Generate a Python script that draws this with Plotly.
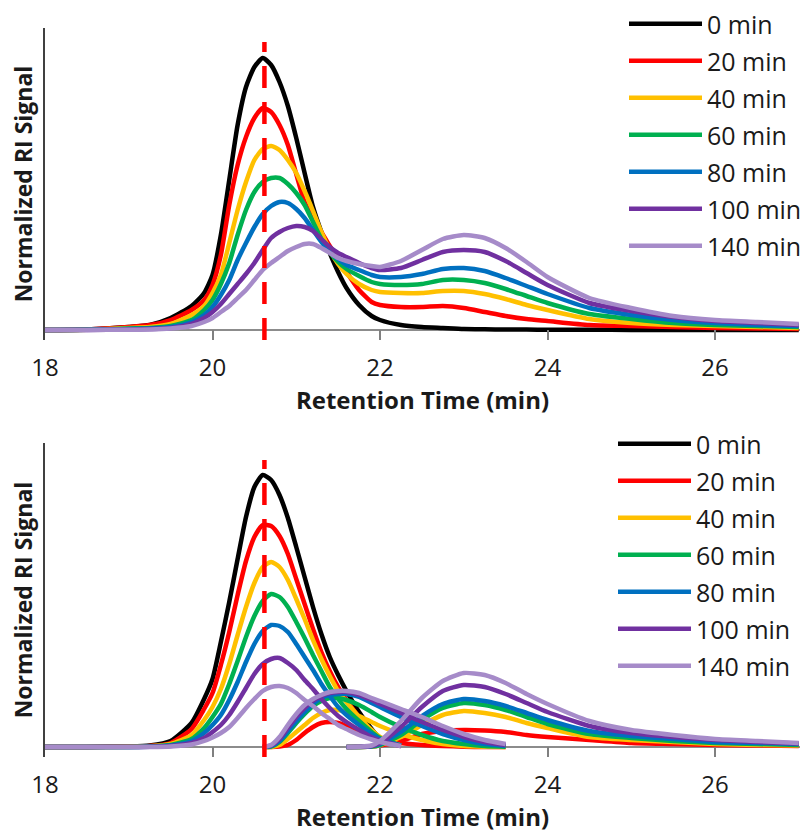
import plotly.graph_objects as go

# ---------------- data ----------------
labels = ["0 min", "20 min", "40 min", "60 min", "80 min", "100 min", "140 min"]
colors = ["#000000", "#FF0000", "#FFC000", "#00B050", "#0070C0", "#7030A0", "#A68BC9"]
reference_time = 20.62
x_ticks = [18, 20, 22, 24, 26]

# Top panel: measured chromatograms
time_full = [18.0, 18.5, 19.0, 19.25, 19.5, 19.75, 19.9, 20.0, 20.1, 20.2, 20.3, 20.4, 20.5,
             20.6, 20.7, 20.8, 20.9, 21.0, 21.1, 21.2, 21.3, 21.4, 21.5, 21.6, 21.75, 21.9,
             22.0, 22.25, 22.5, 22.75, 23.0, 23.25, 23.5, 23.75, 24.0, 24.5, 25.0, 25.5,
             26.0, 26.5, 27.0]
top_0 = [0, 0.5, 3, 5, 12, 24, 37, 55, 95, 150, 205, 243, 263, 272, 265, 248, 224, 192, 157, 123,
         98, 77, 58, 42, 25, 14, 10, 5, 3, 2, 1, 0.7, 0.5, 0.4, 0.3, 0.2, 0.1, 0, 0, 0, 0]
top_20 = [0, 0.5, 3, 5, 10, 20, 30, 45, 75, 125, 165, 193, 212, 222, 218, 205, 185, 156, 128, 112,
          98, 84, 71, 58, 40, 28, 25, 23, 23, 24, 22, 18, 14, 11, 9, 5, 4, 3, 2, 1.5, 1]
top_40 = [0, 0.3, 2, 3, 6, 15, 24, 37, 55, 87, 120, 148, 170, 181, 184, 180, 170, 157, 139, 119,
          98, 80, 66, 56, 46, 40, 38, 37, 37, 39, 39, 36, 31, 25, 20, 11, 7, 5, 4, 3, 2]
top_60 = [0, 0.2, 1.5, 2, 4, 10, 20, 30, 46, 67, 95, 120, 138, 148, 152, 152, 146, 137, 125, 108,
          91, 78, 68, 61, 54, 48, 46, 45, 46, 50, 50, 47, 41, 34, 27, 16, 11, 7, 5, 4, 3]
top_80 = [0, 0.2, 1, 1.5, 3, 8, 15, 23, 35, 50, 70, 87, 103, 116, 124, 128, 127, 121, 112, 100,
          88, 78, 71, 65, 60, 55, 53, 53, 56, 61, 62, 59, 52, 44, 36, 22, 15, 10, 7, 5, 4]
top_100 = [0, 0, 0.5, 1, 2, 6, 12, 18, 26, 36, 46, 56, 67, 80, 92, 98, 102, 104, 103, 99,
           91, 83, 77, 73, 67, 62, 60, 62, 70, 78, 80, 78, 69, 57, 45, 27, 19, 13, 9, 7, 5]
top_140 = [0, 0, 0.3, 0.5, 1.5, 4, 8, 12, 18, 24, 32, 40, 50, 60, 67, 73, 79, 83, 86, 86,
           82, 77, 72, 69, 66, 64, 63, 69, 80, 91, 95, 92, 82, 68, 53, 32, 22, 14, 10, 8, 6]

# Bottom panel: fitted component peaks
time_main = [18.0, 18.5, 19.0, 19.25, 19.5, 19.75, 19.9, 20.0, 20.1, 20.2, 20.3, 20.4, 20.5,
             20.6, 20.7, 20.8, 20.9, 21.0, 21.1, 21.2, 21.3, 21.4, 21.5, 21.6, 21.75, 21.9,
             22.0, 22.25]
time_mid = [20.6, 20.7, 20.8, 20.9, 21.0, 21.1, 21.2, 21.3, 21.4, 21.5, 21.6, 21.75, 21.9,
            22.0, 22.25, 22.5, 22.75, 23.0, 23.25, 23.5]
time_late = [21.6, 21.75, 21.9, 22.0, 22.25, 22.5, 22.75, 23.0, 23.25, 23.5, 23.75, 24.0,
             24.5, 25.0, 25.5, 26.0, 26.5, 27.0]

main_0 = [0, 0, 0.5, 1.5, 6, 24, 48, 68, 105, 145, 188, 230, 260, 272, 267, 252, 229, 200, 170, 140,
          113, 90, 72, 56, 35, 18, 9, 1]
main_20 = [0, 0, 0.4, 1, 4, 18, 38, 54, 82, 115, 152, 186, 210, 222, 221, 211, 193, 168, 143, 118,
           95, 76, 60, 47, 30, 16, 8, 1]
main_40 = [0, 0, 0.2, 0.7, 3, 12, 27, 40, 58, 83, 112, 140, 164, 180, 185, 180, 167, 148, 128, 107,
           88, 71, 56, 45, 30, 17, 10, 1.5]
main_60 = [0, 0, 0.1, 0.5, 2, 8, 19, 30, 43, 63, 86, 110, 131, 146, 153, 150, 140, 125, 109, 92,
           76, 60, 48, 38, 26, 15, 9, 1.5]
main_80 = [0, 0, 0.1, 0.3, 1.5, 6, 14, 22, 32, 47, 65, 85, 103, 116, 122, 121, 115, 103, 90, 77,
           63, 51, 40, 32, 22, 13, 8, 1.5]
main_100 = [0, 0, 0, 0.2, 1, 4, 9, 15, 22, 32, 45, 59, 73, 83, 88, 89, 84, 77, 67, 58,
            48, 39, 31, 25, 17, 10, 6.5, 1]
main_140 = [0, 0, 0, 0.1, 0.6, 2.5, 6, 9.5, 14, 20, 29, 39, 48, 56, 60, 61, 59, 54, 47, 41,
            34, 28, 22, 18, 12, 7.5, 5, 1]

mid_20 = [0, 0, 0.5, 2, 7, 14, 20, 24, 25, 24, 21, 16, 11, 8, 4, 2, 1, 0.3, 0, 0]
mid_40 = [0, 0, 2, 8, 15, 22, 29, 34, 37, 37, 35, 31, 25, 21, 13, 7, 3, 1, 0.3, 0]
mid_60 = [0, 0.5, 5, 14, 24, 33, 41, 46, 49, 49, 47, 42, 35, 30, 20, 12, 6, 3, 1, 0.3]
mid_80 = [0, 1, 6, 16, 26, 35, 43, 49, 52, 53, 53, 50, 44, 40, 30, 21, 13, 7, 3, 1]
mid_100 = [0, 1.5, 8, 19, 30, 39, 46, 51, 54, 55, 55, 52, 47, 43, 34, 25, 17, 10, 5, 2]
mid_140 = [0, 2, 10, 22, 33, 42, 48, 52, 55, 56, 56, 54, 49, 46, 38, 30, 21, 13, 7, 3]

late_20 = [0, 0.1, 0.5, 1.5, 6, 13, 16, 17, 16.5, 15, 12, 10, 7, 4, 3, 2, 1.5, 1]
late_40 = [0, 0.1, 0.5, 2, 10, 22, 32, 36, 34, 30, 24, 19, 10, 7, 5, 3, 2, 1.5]
late_60 = [0, 0.1, 0.5, 2, 12, 27, 39, 44, 42, 37, 30, 23, 13, 9, 6, 4, 3, 2]
late_80 = [0, 0.1, 0.8, 3, 15, 31, 43, 48, 46, 41, 34, 27, 16, 11, 8, 5, 4, 3]
late_100 = [0, 0.2, 1, 4, 20, 40, 56, 62, 60, 53, 44, 35, 21, 14, 10, 7, 5, 3.5]
late_140 = [0, 0.3, 1.5, 6, 26, 49, 66, 74, 72, 64, 53, 43, 26, 17, 12, 8, 6, 4]

top_series = [top_0, top_20, top_40, top_60, top_80, top_100, top_140]
main_series = [main_0, main_20, main_40, main_60, main_80, main_100, main_140]
mid_series = [None, mid_20, mid_40, mid_60, mid_80, mid_100, mid_140]
late_series = [None, late_20, late_40, late_60, late_80, late_100, late_140]

# ---------------- figure ----------------
FONT = "Open Sans"
TXT = "#1a1a1a"
LW = 4.5

fig = go.Figure()

for lab, col, ys in zip(labels, colors, top_series):
    fig.add_trace(go.Scatter(
        x=time_full, y=ys, mode="lines", name=lab,
        line=dict(color=col, width=LW, shape="spline", smoothing=0.6),
        xaxis="x", yaxis="y", legend="legend", legendgroup="top " + lab,
    ))

for lab, col, m, md, lt in zip(labels, colors, main_series, mid_series, late_series):
    fig.add_trace(go.Scatter(
        x=time_main, y=m, mode="lines", name=lab,
        line=dict(color=col, width=LW, shape="spline", smoothing=0.6),
        xaxis="x2", yaxis="y2", legend="legend2", legendgroup="bottom " + lab,
    ))
    if md is not None:
        fig.add_trace(go.Scatter(
            x=time_mid, y=md, mode="lines", name=lab, showlegend=False,
            line=dict(color=col, width=LW, shape="spline", smoothing=0.6),
            xaxis="x2", yaxis="y2", legend="legend2", legendgroup="bottom " + lab,
        ))
    if lt is not None:
        fig.add_trace(go.Scatter(
            x=time_late, y=lt, mode="lines", name=lab, showlegend=False,
            line=dict(color=col, width=LW, shape="spline", smoothing=0.6),
            xaxis="x2", yaxis="y2", legend="legend2", legendgroup="bottom " + lab,
        ))

W, H = 809, 833
x_dom = [45 / W, 800 / W]


def xaxis_cfg(anchor):
    return dict(
        domain=x_dom, anchor=anchor, range=[18, 27.015],
        tickvals=x_ticks, ticks="inside", ticklen=10, tickwidth=1.5, tickcolor="#808080",
        showline=False, showgrid=False, zeroline=False,
        tickfont=dict(family=FONT, size=24, color=TXT), ticklabelstandoff=11,
        title=dict(text="<b>Retention Time (min)</b>", font=dict(family=FONT, size=24, color=TXT),
                   standoff=4),
    )


def yaxis_cfg(anchor, dom, top):
    return dict(
        domain=dom, anchor=anchor, range=[-10, top],
        showticklabels=False, ticks="", showgrid=False,
        showline=True, linecolor="#404040", linewidth=2,
        zeroline=True, zerolinecolor="#8c8c8c", zerolinewidth=2,
        title=dict(text="<b>Normalized RI Signal</b>", font=dict(family=FONT, size=23, color=TXT),
                   standoff=4),
    )


legend_common = dict(
    xanchor="left", yanchor="top", bgcolor="rgba(0,0,0,0)",
    font=dict(family=FONT, size=25, color=TXT), itemwidth=73,
    traceorder="grouped", tracegroupgap=1.5,
)

fig.update_layout(
    width=W, height=H, margin=dict(l=0, r=0, t=0, b=0),
    paper_bgcolor="white", plot_bgcolor="white", template="none",
    font=dict(family=FONT, color=TXT),
    xaxis=xaxis_cfg("y"),
    yaxis=yaxis_cfg("x", [(H - 340) / H, (H - 28) / H], 302),
    xaxis2=xaxis_cfg("y2"),
    yaxis2=yaxis_cfg("x2", [(H - 757) / H, (H - 443) / H], 304),
    legend=dict(x=624 / W, y=1 - 1 / H, **legend_common),
    legend2=dict(x=613 / W, y=1 - 421 / H, **legend_common),
    shapes=[
        dict(type="line", xref="x", yref="y", x0=reference_time, x1=reference_time, y0=-10, y1=288,
             line=dict(color="#FF0000", width=4.5, dash="22px,14px"), layer="above"),
        dict(type="line", xref="x2", yref="y2", x0=reference_time, x1=reference_time, y0=-10, y1=287,
             line=dict(color="#FF0000", width=4.5, dash="22px,14px"), layer="above"),
    ],
)

fig.write_html("out.html")
